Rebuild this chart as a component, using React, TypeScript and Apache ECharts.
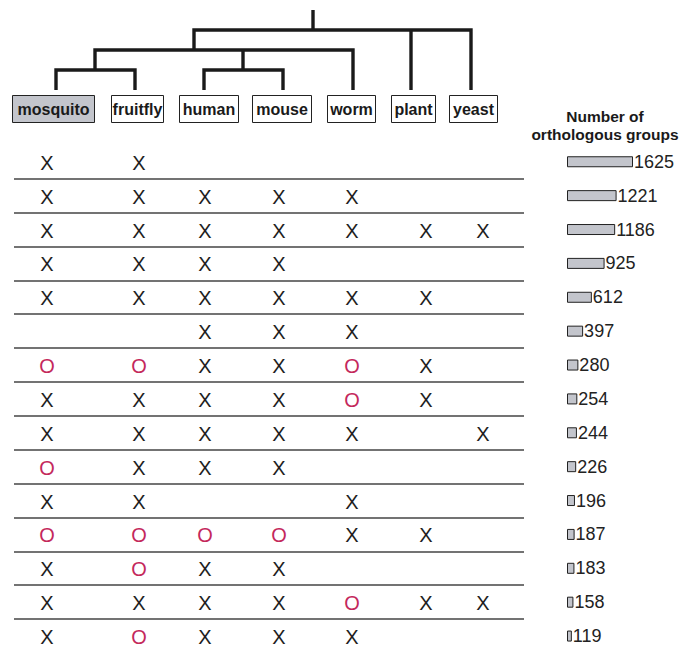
import React, { useEffect, useRef } from "react";
import * as echarts from "echarts";

// ---- data ----
const species = ["mosquito", "fruitfly", "human", "mouse", "worm", "plant", "yeast"];
// one string per row, one character per species: X present, O absent-but-expected, - none
const rowMarks = [
  "XX-----",
  "XXXXX--",
  "XXXXXXX",
  "XXXX---",
  "XXXXXX-",
  "--XXX--",
  "OOXXOX-",
  "XXXXOX-",
  "XXXXX-X",
  "OXXX---",
  "XX--X--",
  "OOOOXX-",
  "XOXX---",
  "XXXXOXX",
  "XOXXX--",
];
const groupCounts = [1625, 1221, 1186, 925, 612, 397, 280, 254, 244, 226, 196, 187, 183, 158, 119];
const titleLines = ["Number of", "orthologous groups"];

// ---- layout ----
const COL_X = [47, 139, 205, 279, 352, 426, 483]; // column centres (px scale of x axis)
const BOXES = [
  [12, 94], [111, 163], [179, 238], [252, 311], [327, 375], [391, 435], [449, 497],
];
const ROW_H = 34.36;
const GRID_TOP = 162 - ROW_H / 2;
const GRID_H = ROW_H * rowMarks.length;
const X_COLOR = "#1e1e1e";
const O_COLOR = "#c4285c";
const FONT = "'Liberation Sans', Arial, Helvetica, sans-serif";

export default function App() {
  const ref = useRef<HTMLDivElement>(null);
  useEffect(() => {
    if (!ref.current) return;
    const chart = echarts.init(ref.current, undefined, { renderer: "svg" });
    const rowCats = rowMarks.map((_, i) => String(i));
    const markData: any[] = [];
    rowMarks.forEach((row, r) => {
      row.split("").forEach((ch, c) => {
        if (ch !== "-") markData.push([COL_X[c], String(r), ch]);
      });
    });

    const treeStyle = { stroke: "#1a1a1a", lineWidth: 3.4, fill: "none" };
    const graphics: any[] = [
      { type: "line", shape: { x1: 313, y1: 10, x2: 313, y2: 30 }, style: treeStyle },
      { type: "polyline", shape: { points: [[194, 50], [194, 30], [471, 30], [471, 90]] }, style: treeStyle },
      { type: "line", shape: { x1: 411, y1: 30, x2: 411, y2: 90 }, style: treeStyle },
      { type: "polyline", shape: { points: [[95, 70], [95, 50], [353, 50], [353, 90]] }, style: treeStyle },
      { type: "line", shape: { x1: 243, y1: 50, x2: 243, y2: 70 }, style: treeStyle },
      { type: "polyline", shape: { points: [[56, 90], [56, 70], [135, 70], [135, 90]] }, style: treeStyle },
      { type: "polyline", shape: { points: [[204, 90], [204, 70], [283, 70], [283, 90]] }, style: treeStyle },
    ];
    species.forEach((name, i) => {
      const [x0, x1] = BOXES[i];
      graphics.push({
        type: "rect",
        shape: { x: x0 + 0.5, y: 95.5, width: x1 - x0, height: 27 },
        style: { fill: i === 0 ? "#c3c5cc" : "#fff", stroke: "#222", lineWidth: 1 },
      });
      graphics.push({
        type: "text",
        x: (x0 + x1) / 2 + 0.5,
        y: 109.5,
        style: {
          text: name, fill: "#1a1a1a", font: `bold 16px ${FONT}`,
          align: "center", verticalAlign: "middle",
        },
      });
    });
    titleLines.forEach((t, i) => {
      graphics.push({
        type: "text", x: 605, y: 116 + i * 18,
        style: { text: t, fill: "#1a1a1a", font: `bold 15.5px ${FONT}`, align: "center", verticalAlign: "middle" },
      });
    });

    chart.setOption({
      animation: false,
      grid: [
        { left: 14, width: 510, top: GRID_TOP, height: GRID_H },
        { left: 567, width: 66, top: GRID_TOP, height: GRID_H },
      ],
      xAxis: [
        { type: "value", gridIndex: 0, min: 14, max: 524, show: false },
        { type: "value", gridIndex: 1, min: 0, max: 1625, show: false },
      ],
      yAxis: [
        {
          type: "category", gridIndex: 0, data: rowCats, inverse: true,
          axisLine: { show: false }, axisTick: { show: false }, axisLabel: { show: false },
          splitLine: { show: true, showMinLine: false, showMaxLine: false, lineStyle: { color: "#444", width: 1.6 } },
        },
        {
          type: "category", gridIndex: 1, data: rowCats, inverse: true,
          axisLine: { show: false }, axisTick: { show: false }, axisLabel: { show: false }, splitLine: { show: false },
        },
      ],
      graphic: graphics,
      series: [
        {
          type: "custom",
          xAxisIndex: 0, yAxisIndex: 0,
          data: markData,
          renderItem: (params: any, api: any) => {
            const p = api.coord([api.value(0), api.value(1)]);
            const ch = markData[params.dataIndex][2];
            return {
              type: "text", x: p[0], y: p[1] + 1,
              style: {
                text: ch, fill: ch === "O" ? O_COLOR : X_COLOR, font: `20px ${FONT}`,
                align: "center", verticalAlign: "middle",
              },
            };
          },
        },
        {
          type: "bar",
          xAxisIndex: 1, yAxisIndex: 1,
          data: groupCounts,
          barWidth: 11,
          itemStyle: { color: "#c3c5cc", borderColor: "#222", borderWidth: 1 },
          label: { show: true, position: "right", distance: 1, color: "#222", fontSize: 18, fontFamily: FONT },
        },
      ],
    });
    return () => chart.dispose();
  }, []);
  return <div ref={ref} style={{ position: "absolute", left: 0, top: 0, width: 680, height: 653 }} />;
}
